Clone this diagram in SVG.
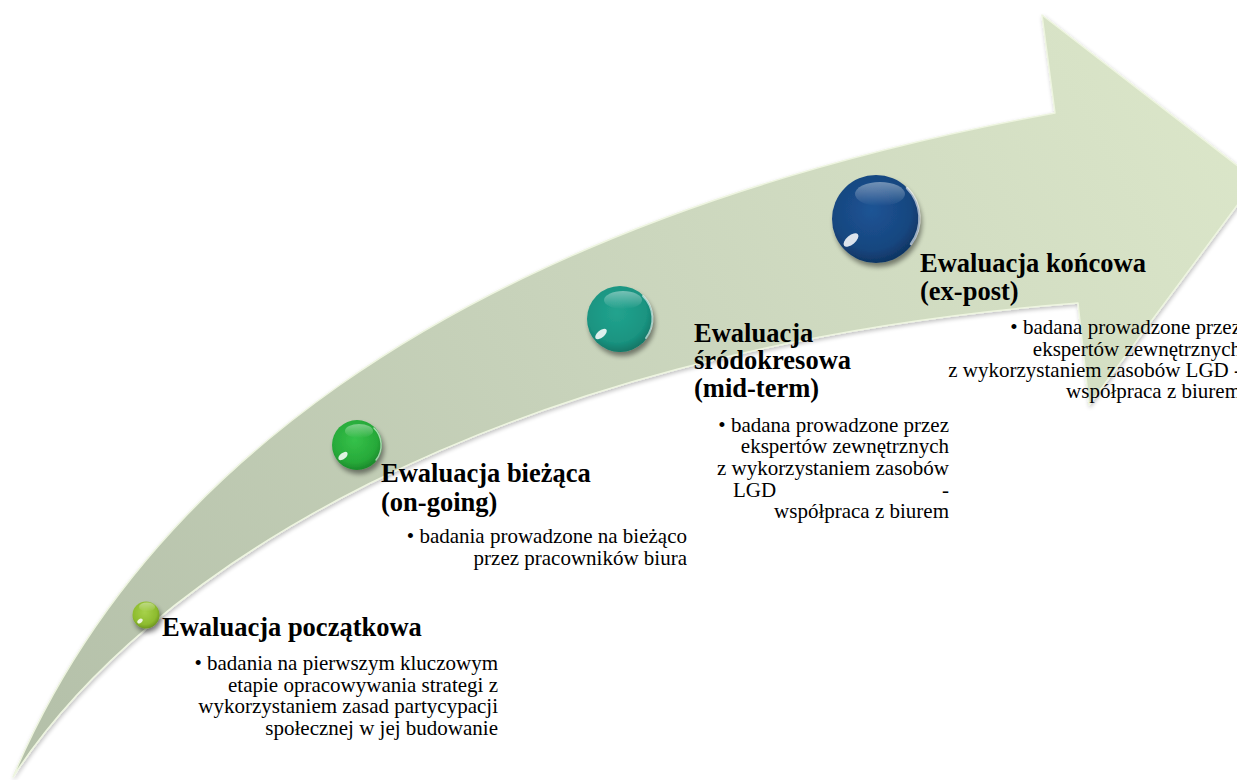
<svg xmlns="http://www.w3.org/2000/svg" width="1237" height="780" viewBox="0 0 1237 780">
  <defs>
    <linearGradient id="arrowFill" x1="0" y1="780" x2="1237" y2="100" gradientUnits="userSpaceOnUse">
      <stop offset="0" stop-color="#b3bfa8"/>
      <stop offset="0.5" stop-color="#c8d3bb"/>
      <stop offset="1" stop-color="#dbe6c9"/>
    </linearGradient>
    <filter id="arrowShadow" x="-5%" y="-5%" width="110%" height="110%">
      <feGaussianBlur in="SourceAlpha" stdDeviation="2"/>
      <feOffset dx="1" dy="2" result="b"/>
      <feComponentTransfer><feFuncA type="linear" slope="0.25"/></feComponentTransfer>
      <feMerge><feMergeNode/><feMergeNode in="SourceGraphic"/></feMerge>
    </filter>
    <filter id="ballShadow" x="-40%" y="-40%" width="180%" height="180%">
      <feGaussianBlur in="SourceAlpha" stdDeviation="2.5"/>
      <feOffset dx="2" dy="4" result="b"/>
      <feComponentTransfer><feFuncA type="linear" slope="0.45"/></feComponentTransfer>
      <feMerge><feMergeNode/><feMergeNode in="SourceGraphic"/></feMerge>
    </filter>
    <radialGradient id="g1" cx="0.45" cy="0.4" r="0.6">
      <stop offset="0" stop-color="#a6d14a"/>
      <stop offset="0.75" stop-color="#8dbb2e"/>
      <stop offset="1" stop-color="#6e9620"/>
    </radialGradient>
    <radialGradient id="g2" cx="0.45" cy="0.4" r="0.6">
      <stop offset="0" stop-color="#35c14a"/>
      <stop offset="0.75" stop-color="#27a939"/>
      <stop offset="1" stop-color="#1b8a2b"/>
    </radialGradient>
    <radialGradient id="g3" cx="0.45" cy="0.4" r="0.6">
      <stop offset="0" stop-color="#22a38e"/>
      <stop offset="0.75" stop-color="#1a9481"/>
      <stop offset="1" stop-color="#127767"/>
    </radialGradient>
    <radialGradient id="g4" cx="0.45" cy="0.4" r="0.6">
      <stop offset="0" stop-color="#1d5495"/>
      <stop offset="0.75" stop-color="#17467f"/>
      <stop offset="1" stop-color="#0f3563"/>
    </radialGradient>
    <linearGradient id="gloss" x1="0" y1="0" x2="0" y2="1">
      <stop offset="0" stop-color="#ffffff" stop-opacity="0.4"/>
      <stop offset="1" stop-color="#ffffff" stop-opacity="0"/>
    </linearGradient>
  </defs>
  <style>
    .title { font-family: "Liberation Serif", "Times New Roman", serif; font-weight: bold; font-size: 26.5px; fill: #000; }
    .body { font-family: "Liberation Serif", "Times New Roman", serif; font-size: 21px; fill: #000; }
    .r { text-anchor: end; }
    .rim { fill: none; stroke: #ffffff; stroke-opacity: 0.6; stroke-linecap: round; }
    .spec { fill: #ffffff; opacity: 0.85; }
  </style>
  <rect width="1237" height="780" fill="#ffffff"/>

  <g id="connectors">
    <path id="arrow" filter="url(#arrowShadow)" fill="url(#arrowFill)" stroke="#eef5e0" stroke-width="1.5" stroke-linejoin="round"
      d="M 13,777 C 130,500 420,230 1055,113 L 1042,15 L 1256,180 L 1089,405 L 1078,303 C 480,350 140,580 13,777 Z"/>
  </g>

  <g id="node-poczatkowa">
    <g filter="url(#ballShadow)">
      <circle cx="146" cy="615" r="13.5" fill="url(#g1)"/>
    </g>
    <ellipse cx="147" cy="607" rx="8" ry="4.5" fill="url(#gloss)"/>
    <ellipse cx="140" cy="621" rx="3" ry="2" class="spec" transform="rotate(-40 140 621)"/>
    <text class="title" x="162" y="636">Ewaluacja początkowa</text>
    <text class="body r" x="498" y="670">• badania na pierwszym kluczowym</text>
    <text class="body r" x="498" y="692">etapie opracowywania strategi z</text>
    <text class="body r" x="498" y="713">wykorzystaniem zasad partycypacji</text>
    <text class="body r" x="498" y="735">społecznej w jej budowanie</text>
  </g>

  <g id="node-biezaca">
    <g filter="url(#ballShadow)">
      <circle cx="357" cy="445" r="25" fill="url(#g2)"/>
    </g>
    <ellipse cx="359" cy="431" rx="14" ry="7" fill="url(#gloss)"/>
    <ellipse cx="343" cy="456" rx="5.5" ry="3" class="spec" transform="rotate(-40 343 456)"/>
    <path class="rim" stroke-width="1.5" d="M 374,428 A 24,24 0 0 1 376,460"/>
    <text class="title" x="381" y="482">Ewaluacja bieżąca</text>
    <text class="title" x="381" y="511">(on-going)</text>
    <text class="body r" x="687" y="543">• badania prowadzone na bieżąco</text>
    <text class="body r" x="687" y="565">przez pracowników biura</text>
  </g>

  <g id="node-srodokresowa">
    <g filter="url(#ballShadow)">
      <circle cx="620" cy="319" r="33" fill="url(#g3)"/>
    </g>
    <ellipse cx="623" cy="300" rx="19" ry="9" fill="url(#gloss)"/>
    <ellipse cx="601" cy="334" rx="7" ry="3.5" class="spec" transform="rotate(-40 601 334)"/>
    <path class="rim" stroke-width="2" d="M 643,296 A 32,32 0 0 1 646,338"/>
    <text class="title" x="694" y="342">Ewaluacja</text>
    <text class="title" x="694" y="369">śródokresowa</text>
    <text class="title" x="694" y="397">(mid-term)</text>
    <text class="body r" x="949" y="432">• badana prowadzone przez</text>
    <text class="body r" x="949" y="453">ekspertów zewnętrznych</text>
    <text class="body r" x="949" y="475">z wykorzystaniem zasobów</text>
    <text class="body" x="733" y="497">LGD</text>
    <text class="body r" x="949" y="497">-</text>
    <text class="body r" x="949" y="518">współpraca z biurem</text>
  </g>

  <g id="node-koncowa">
    <g filter="url(#ballShadow)">
      <circle cx="876" cy="219" r="44" fill="url(#g4)"/>
    </g>
    <ellipse cx="880" cy="194" rx="25" ry="12" fill="url(#gloss)"/>
    <ellipse cx="851" cy="240" rx="9" ry="4.5" class="spec" transform="rotate(-40 851 240)"/>
    <path class="rim" stroke-width="2.5" d="M 907,188 A 43,43 0 0 1 911,244"/>
    <text class="title" x="920" y="272">Ewaluacja końcowa</text>
    <text class="title" x="920" y="300">(ex-post)</text>
    <text class="body r" x="1241" y="334">• badana prowadzone przez</text>
    <text class="body r" x="1241" y="356">ekspertów zewnętrznych</text>
    <text class="body r" x="1241" y="377">z wykorzystaniem zasobów LGD -</text>
    <text class="body r" x="1241" y="398">współpraca z biurem</text>
  </g>
</svg>
